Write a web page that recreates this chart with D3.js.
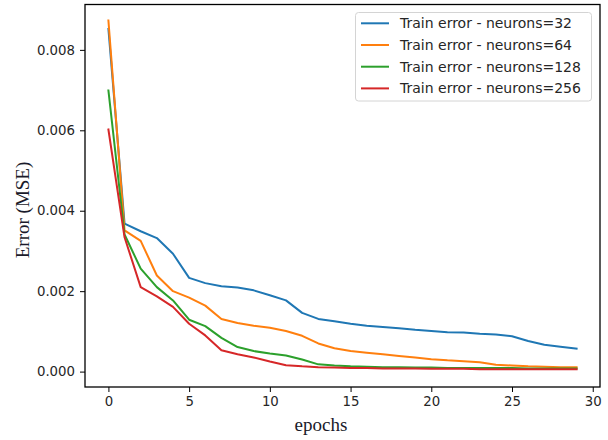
<!DOCTYPE html>
<html>
<head>
<meta charset="utf-8">
<script src="https://cdn.jsdelivr.net/npm/d3@7"></script>
<style>
  html, body { margin: 0; padding: 0; background: #fff; }
  svg { display: block; }
</style>
</head>
<body>
<svg id="chart" width="608" height="440"></svg>
<script>
const epochs = d3.range(0, 30);
const seriesNames = [
  "Train error - neurons=32",
  "Train error - neurons=64",
  "Train error - neurons=128",
  "Train error - neurons=256"
];
const colors = ["#1f77b4", "#ff7f0e", "#2ca02c", "#d62728"];
const err32 = [0.00852, 0.00368, 0.00349, 0.00332, 0.00293, 0.00233, 0.00220, 0.00212, 0.00209, 0.00202,
               0.00190, 0.00177, 0.00146, 0.00131, 0.00125, 0.00119, 0.00114, 0.00111, 0.00108, 0.00104,
               0.00101, 0.00098, 0.00097, 0.00094, 0.00092, 0.00088, 0.00076, 0.00067, 0.00062, 0.00057];
const err64 = [0.00873, 0.00351, 0.00325, 0.00239, 0.00200, 0.00184, 0.00164, 0.00131, 0.00121, 0.00114,
               0.00109, 0.00101, 0.00089, 0.00070, 0.00058, 0.00051, 0.00047, 0.00043, 0.00039, 0.00035,
               0.00031, 0.00028, 0.00026, 0.00023, 0.00017, 0.00015, 0.00013, 0.00012, 0.00011, 0.00011];
const err128 = [0.00699, 0.00341, 0.00256, 0.00210, 0.00177, 0.00129, 0.00113, 0.00084, 0.00061, 0.00051,
                0.00045, 0.00040, 0.00030, 0.00018, 0.00015, 0.00013, 0.00012, 0.00011, 0.00011, 0.00010,
                0.00010, 0.00009, 0.00009, 0.00009, 0.00009, 0.00009, 0.00008, 0.00008, 0.00008, 0.00008];
const err256 = [0.00602, 0.00334, 0.00210, 0.00187, 0.00161, 0.00119, 0.00090, 0.00053, 0.00043, 0.00035,
                0.00025, 0.00016, 0.00013, 0.00011, 0.00010, 0.00009, 0.00009, 0.00008, 0.00008, 0.00008,
                0.00007, 0.00007, 0.00007, 0.00006, 0.00006, 0.00006, 0.00006, 0.00006, 0.00006, 0.00006];
const xTicks = [0, 5, 10, 15, 20, 25, 30];
const yTicks = [0.000, 0.002, 0.004, 0.006, 0.008];
const xLabel = "epochs";
const yLabel = "Error (MSE)";

const allSeries = [err32, err64, err128, err256];

const svg = d3.select("#chart");
const L = 85, R = 600, T = 4.5, B = 387;

const x = d3.scaleLinear().domain([-1.45, 30.45]).range([L, R]);
const y = d3.scaleLinear().domain([-0.000383, 0.009128]).range([B, T]);

const tickFont = "DejaVu Sans, sans-serif";

// lines
const line = d3.line().x((d, i) => x(epochs[i])).y(d => y(d));
const g = svg.append("g");
allSeries.forEach((s, k) => {
  g.append("path")
    .datum(s)
    .attr("fill", "none")
    .attr("stroke", colors[k])
    .attr("stroke-width", 2)
    .attr("stroke-linejoin", "round")
    .attr("stroke-linecap", "square")
    .attr("d", line);
});

// axes
const xAxis = svg.append("g").attr("transform", `translate(0,${B})`)
  .call(d3.axisBottom(x).tickValues(xTicks).tickFormat(d3.format("d")).tickSize(5).tickPadding(5).tickSizeOuter(0));
const yAxis = svg.append("g").attr("transform", `translate(${L},0)`)
  .call(d3.axisLeft(y).tickValues(yTicks).tickFormat(d3.format(".3f")).tickSize(5).tickPadding(5).tickSizeOuter(0));
[xAxis, yAxis].forEach(a => {
  a.select(".domain").remove();
  a.selectAll("line").attr("stroke", "#000").attr("stroke-width", 1);
  a.selectAll("text").attr("font-family", tickFont).attr("font-size", 13.3).attr("fill", "#262626");
});

// frame
svg.append("rect")
  .attr("x", L).attr("y", T).attr("width", R - L).attr("height", B - T)
  .attr("fill", "none").attr("stroke", "#000").attr("stroke-width", 1.3);

// axis labels
svg.append("text")
  .attr("x", 321).attr("y", 431)
  .attr("text-anchor", "middle")
  .attr("font-family", "Liberation Serif, Times New Roman, serif")
  .attr("font-size", 19)
  .attr("fill", "#1a1a2a")
  .text(xLabel);
svg.append("text")
  .attr("transform", "translate(29,210) rotate(-90)")
  .attr("text-anchor", "middle")
  .attr("font-family", "Liberation Serif, Times New Roman, serif")
  .attr("font-size", 19)
  .attr("fill", "#1a1a2a")
  .text(yLabel);

// legend
const lg = svg.append("g");
lg.append("rect")
  .attr("x", 355.5).attr("y", 12.5).attr("width", 236).attr("height", 88.5)
  .attr("rx", 3).attr("fill", "#fff").attr("fill-opacity", 0.8)
  .attr("stroke", "#d4d4d4").attr("stroke-width", 1);
seriesNames.forEach((name, k) => {
  const yy = 23.3 + k * 21.7;
  lg.append("line")
    .attr("x1", 361).attr("x2", 389).attr("y1", yy).attr("y2", yy)
    .attr("stroke", colors[k]).attr("stroke-width", 2);
  lg.append("text")
    .attr("x", 400).attr("y", yy).attr("dy", "0.35em")
    .attr("font-family", tickFont).attr("font-size", 14).attr("fill", "#262626")
    .text(name);
});
</script>
</body>
</html>
